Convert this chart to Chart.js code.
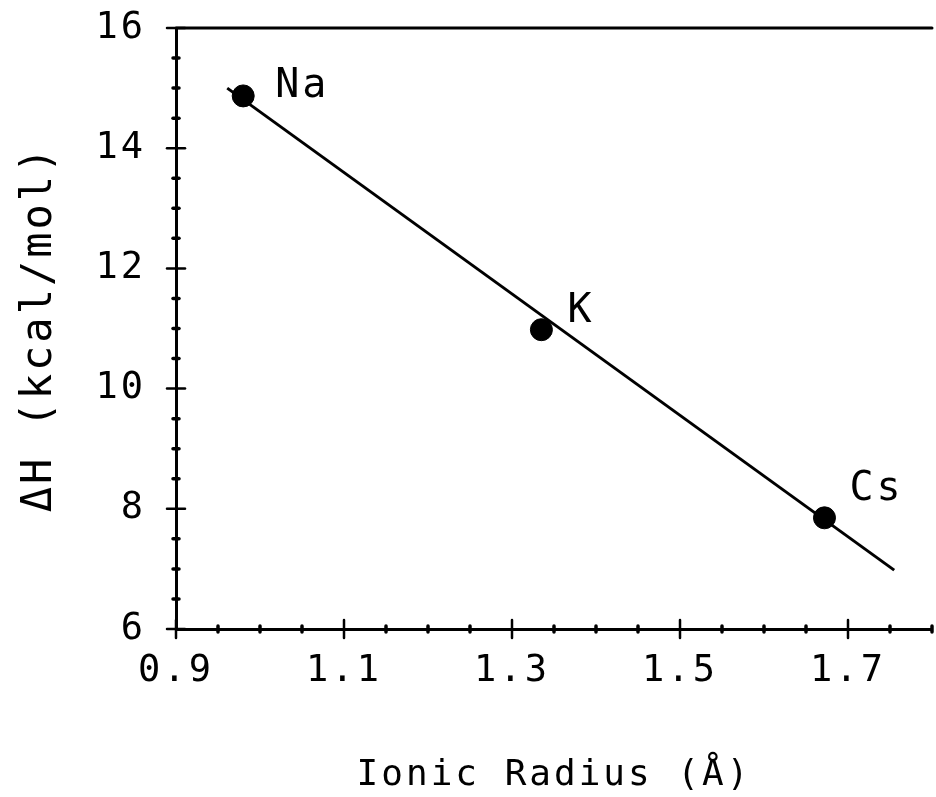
<!DOCTYPE html>
<html>
<head>
<meta charset="utf-8">
<script src="https://cdn.jsdelivr.net/npm/chart.js@4"></script>
<style>
  html, body { margin: 0; padding: 0; background: #fff; overflow: hidden; }
  #wrap { width: 944px; height: 797px; }
</style>
</head>
<body>
<div id="wrap"><canvas id="grafico"></canvas></div>
<script>
  // values
  const ions = ["Na", "K", "Cs"];
  const radius = [0.98, 1.335, 1.672];
  const deltaH = [14.87, 10.98, 7.85];
  const fitX = [0.961, 1.755];
  const fitY = [15.0, 6.98];

  const xMin = 0.9, xMax = 1.8, xMinor = 0.05, xMajor = 0.2;
  const yMin = 6, yMax = 16, yMinor = 0.5, yMajor = 2;

  const fontName = '"DejaVu Sans Mono", monospace';

  // label offsets in px from each point (style only)
  const labelOffsets = [[32, 1], [26, -8], [25, -18]];

  const isMajor = (v, start, step) => {
    const k = (v - start) / step;
    return Math.abs(k - Math.round(k)) < 1e-6;
  };

  const marcas = {
    id: "marcas",
    beforeDraw(chart) {
      chart.ctx.letterSpacing = "3px";
    },
    afterDraw(chart) {
      const { ctx, chartArea, scales } = chart;
      const x = scales.x;
      const y = scales.y;
      ctx.save();
      ctx.strokeStyle = "#000";
      ctx.lineCap = "round";

      // top frame
      ctx.lineWidth = 3;
      ctx.beginPath();
      ctx.moveTo(chartArea.left, chartArea.top);
      ctx.lineTo(chartArea.right, chartArea.top);
      ctx.stroke();

      // x tick marks
      x.ticks.forEach((t) => {
        const px = x.getPixelForValue(t.value);
        const len = t.label ? 9 : 3;
        ctx.lineWidth = t.label ? 2.5 : 3.5;
        ctx.beginPath();
        ctx.moveTo(px, chartArea.bottom - len);
        ctx.lineTo(px, chartArea.bottom + len);
        ctx.stroke();
      });

      // y tick marks
      y.ticks.forEach((t) => {
        const py = y.getPixelForValue(t.value);
        const len = t.label ? 9 : 3;
        ctx.lineWidth = t.label ? 2.5 : 3.5;
        ctx.beginPath();
        ctx.moveTo(chartArea.left - len, py);
        ctx.lineTo(chartArea.left + len, py);
        ctx.stroke();
      });

      // ion names
      ctx.font = "40px " + fontName;
      ctx.fillStyle = "#000";
      ctx.textAlign = "left";
      ctx.textBaseline = "alphabetic";
      const meta = chart.getDatasetMeta(0);
      meta.data.forEach((pt, i) => {
        ctx.fillText(ions[i], pt.x + labelOffsets[i][0], pt.y + labelOffsets[i][1]);
      });
      ctx.restore();
    },
  };

  const ctx = document.getElementById("grafico");

  var grafico = new Chart(ctx, {
    type: "scatter",
    data: {
      datasets: [
        {
          label: "Ions",
          data: radius.map((r, i) => ({ x: r, y: deltaH[i] })),
          backgroundColor: "#000",
          borderColor: "#000",
          pointRadius: 11,
          pointHoverRadius: 11,
        },
        {
          label: "Fit",
          data: fitX.map((r, i) => ({ x: r, y: fitY[i] })),
          showLine: true,
          borderColor: "#000",
          borderWidth: 3,
          pointRadius: 0,
          fill: false,
        },
      ],
    },
    options: {
      responsive: true,
      maintainAspectRatio: false,
      animation: false,
      layout: {
        padding: { left: 0, top: 28, right: 7, bottom: 0 },
      },
      plugins: {
        legend: { display: false },
        tooltip: { enabled: false },
      },
      scales: {
        x: {
          type: "linear",
          min: xMin,
          max: xMax,
          afterFit: (scale) => {
            scale.height = 168;
            scale.paddingLeft = 0;
            scale.paddingRight = 0;
          },
          grid: { display: true, drawOnChartArea: false, drawTicks: false },
          border: { display: true, color: "#000", width: 3 },
          ticks: {
            stepSize: xMinor,
            autoSkip: false,
            maxRotation: 0,
            padding: 20,
            color: "#000",
            font: { family: fontName, size: 37 },
            callback: (v) => (isMajor(v, xMin, xMajor) ? Number(v).toFixed(1) : ""),
          },
          title: {
            display: true,
            text: "Ionic Radius (Å)",
            color: "#000",
            font: { family: fontName, size: 36 },
            padding: { top: 0, bottom: 0 },
          },
        },
        y: {
          type: "linear",
          min: yMin,
          max: yMax,
          afterFit: (scale) => {
            scale.width = 176;
            scale.paddingTop = 0;
            scale.paddingBottom = 0;
          },
          grid: { display: true, drawOnChartArea: false, drawTicks: false },
          border: { display: true, color: "#000", width: 3 },
          ticks: {
            stepSize: yMinor,
            autoSkip: false,
            padding: 30,
            color: "#000",
            font: { family: fontName, size: 37 },
            callback: (v) => (isMajor(v, yMin, yMajor) ? String(Math.round(v)) : ""),
          },
          title: {
            display: true,
            text: "ΔH (kcal/mol)",
            color: "#000",
            font: { family: fontName, size: 42 },
            padding: { top: 15, bottom: 0 },
          },
        },
      },
    },
    plugins: [marcas],
  });
</script>
</body>
</html>
